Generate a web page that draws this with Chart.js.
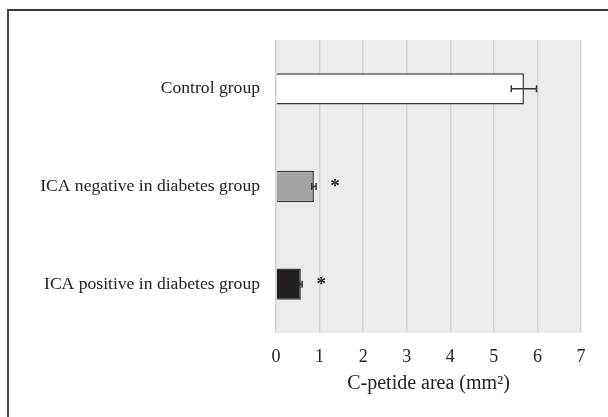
<!DOCTYPE html>
<html>
<head>
<meta charset="utf-8">
<script src="https://cdn.jsdelivr.net/npm/chart.js@4.4.1/dist/chart.umd.min.js"></script>
<style>
  html, body { margin: 0; padding: 0; background: #fff; overflow: hidden; }
  #wrap { position: relative; width: 608px; height: 417px; }
  #frame {
    position: absolute; left: 7px; top: 9px; right: -10px; bottom: -10px;
    border-left: 2px solid #4a4a4a; border-top: 2px solid #3a3a3a;
    pointer-events: none;
  }
  canvas { position: absolute; left: 0; top: 0; }
</style>
</head>
<body>
<div id="wrap">
  <canvas id="c" width="608" height="417"></canvas>
  <div id="frame"></div>
</div>
<script>
// Group names, mean C-peptide area and error (mm²)
const categories = ['Control group', 'ICA negative in diabetes group', 'ICA positive in diabetes group'];
const areaMeans = [5.69, 0.87, 0.57];
const areaErrors = [0.29, 0.05, 0.03];
const significant = [false, true, true];
const barColors = ['#ffffff', '#a3a3a3', '#231f20'];
const xTicks = [0, 1, 2, 3, 4, 5, 6, 7];

const FONT = "'Liberation Serif', 'Times New Roman', serif";

// Shaded plotting area
const plotBackground = {
  id: 'plotBackground',
  beforeDraw(chart) {
    const { ctx, chartArea: a } = chart;
    ctx.save();
    ctx.fillStyle = '#ececec';
    ctx.fillRect(a.left, a.top, a.right - a.left, a.bottom - a.top);
    ctx.restore();
  }
};

// Error bars with end caps, plus significance asterisks
const errorBars = {
  id: 'errorBars',
  afterDatasetsDraw(chart) {
    const { ctx } = chart;
    const xs = chart.scales.x;
    const meta = chart.getDatasetMeta(0);
    ctx.save();
    ctx.strokeStyle = '#333';
    ctx.lineWidth = 1.5;
    meta.data.forEach((bar, i) => {
      const y = bar.y;
      const x1 = xs.getPixelForValue(areaMeans[i] - areaErrors[i]);
      const x2 = xs.getPixelForValue(areaMeans[i] + areaErrors[i]);
      const cap = 3.5;
      ctx.beginPath();
      ctx.moveTo(x1, y); ctx.lineTo(x2, y);
      ctx.moveTo(x1, y - cap); ctx.lineTo(x1, y + cap);
      ctx.moveTo(x2, y - cap); ctx.lineTo(x2, y + cap);
      ctx.stroke();
      if (significant[i]) {
        ctx.fillStyle = '#222';
        ctx.font = 'bold 19px ' + FONT;
        ctx.textAlign = 'center';
        ctx.textBaseline = 'middle';
        ctx.fillText('*', x2 + 19, y + 1);
      }
    });
    ctx.restore();
  }
};

new Chart(document.getElementById('c'), {
  type: 'bar',
  data: {
    labels: categories,
    datasets: [{
      data: areaMeans,
      backgroundColor: barColors,
      borderColor: '#3a3a3a',
      borderWidth: 1.5,
      categoryPercentage: 0.32,
      barPercentage: 1.0
    }]
  },
  options: {
    indexAxis: 'y',
    responsive: false,
    animation: false,
    layout: { padding: { top: 40, right: 27, bottom: 21, left: 0 } },
    plugins: { legend: { display: false }, tooltip: { enabled: false } },
    scales: {
      x: {
        min: 0, max: 7,
        afterBuildTicks(scale) { scale.ticks = xTicks.map(v => ({ value: v })); },
        afterFit(scale) { scale.height = 63; },
        grid: { color: '#d3d3d3', lineWidth: 1.5, drawTicks: false },
        border: { display: false },
        ticks: { color: '#222', padding: 13, font: { family: FONT, size: 18 } },
        title: {
          display: true, text: 'C-petide area (mm²)', color: '#222',
          padding: { top: 0, bottom: 0 },
          font: { family: FONT, size: 20 }
        }
      },
      y: {
        afterFit(scale) { scale.width = 276; },
        grid: { display: false, drawTicks: false },
        border: { display: false },
        ticks: { color: '#222', padding: 16, font: { family: FONT, size: 17.6 } }
      }
    }
  },
  plugins: [plotBackground, errorBars]
});
</script>
</body>
</html>
